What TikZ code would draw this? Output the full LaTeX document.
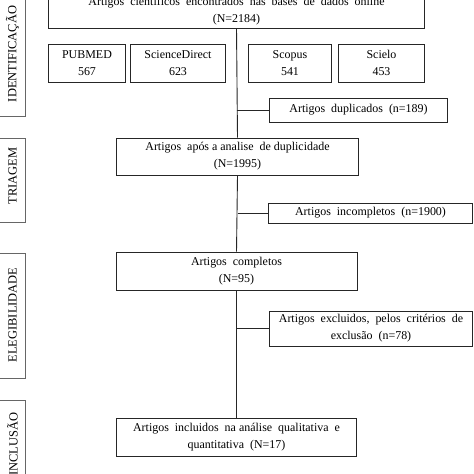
\documentclass[tikz,border=0pt]{standalone}
\usepackage{fontspec}
\setmainfont{Liberation Serif}
\begin{document}
\begin{tikzpicture}[x=1bp,y=-1bp,
  box/.style={draw=black!85, line width=0.8bp, inner sep=0pt, align=center, font=\fontsize{12}{17}\selectfont},
  side/.style={draw=black!60, line width=0.6bp, inner sep=0pt},
  sidetxt/.style={rotate=90, font=\fontsize{12.5}{15}\selectfont, inner sep=0pt},
  conn/.style={draw=black!85, line width=0.9bp}]
\useasboundingbox[fill=white] (0,0) rectangle (474,474);
% side boxes
\node[side, minimum width=40, minimum height=132] (sb1) at (5,51) {};
\node[sidetxt] (st1) at (12.5,54) {IDENTIFICAÇÃO};
\node[side, minimum width=40, minimum height=84] (sb2) at (5,180) {};
\node[sidetxt] (st2) at (12.5,176) {TRIAGEM};
\node[side, minimum width=40, minimum height=126] (sb3) at (5,316) {};
\node[sidetxt] (st3) at (12.5,315) {ELEGIBILIDADE};
\node[side, minimum width=40, minimum height=100] (sb4) at (5,450) {};
\node[sidetxt] (st4) at (12.5,444) {INCLUSÃO};
% main boxes
\node[box, minimum width=377, minimum height=34] (b1) at (236.5,11) {Artigos \ científicos \ encontrados \ nas \ bases \ de \ dados \ online\\(N=2184)};
\node[box, minimum width=78, minimum height=38] (pm) at (87,63) {PUBMED\\567};
\node[box, minimum width=96, minimum height=38] (sd) at (178,63) {ScienceDirect\\623};
\node[box, minimum width=84, minimum height=38] (sc) at (290,63) {Scopus\\541};
\node[box, minimum width=87, minimum height=38] (si) at (381.5,63) {Scielo\\453};
\node[box, minimum width=179, minimum height=24] (dup) at (358.5,110) {Artigos \ duplicados \ (n=189)};
\node[box, minimum width=243, minimum height=37] (b2) at (237.5,156.5) {Artigos \ após a analise \ de duplicidade\\(N=1995)};
\node[box, minimum width=205, minimum height=20] (inc) at (370.5,213) {Artigos \ incompletos \ (n=1900)};
\node[box, minimum width=242, minimum height=38] (b3) at (236.5,271) {Artigos \ completos\\(N=95)};
\node[box, minimum width=204, minimum height=35] (exc) at (371,328.5) {Artigos \ excluidos, \ pelos \ critérios \ de\\exclusão \ (n=78)};
\node[box, minimum width=241, minimum height=38] (b4) at (236.5,437) {Artigos \ incluidos \ na análise \ qualitativa \ e\\quantitativa \ (N=17)};
% trunk
\draw[conn] (b1.south) -- (b2.north);
\draw[conn] (b2.south) -- (b3.north);
\draw[conn] (b3.south) -- (b4.north);
% branches
\draw[conn] (b1.south |- dup.west) -- (dup.west);
\draw[conn] (b2.south |- inc.west) -- (inc.west);
\draw[conn] (b3.south |- exc.west) -- (exc.west);
\end{tikzpicture}
\end{document}
